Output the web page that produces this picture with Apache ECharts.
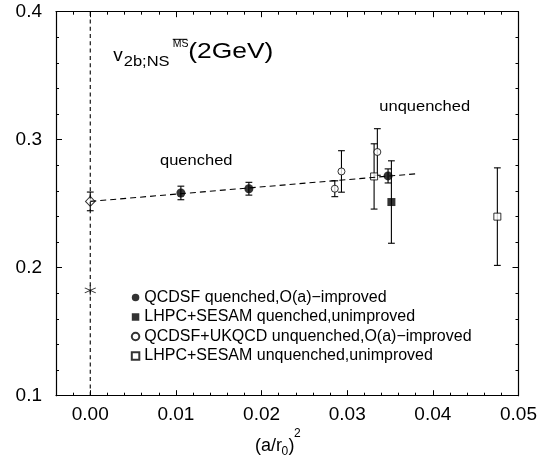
<!DOCTYPE html>
<html>
<head>
<meta charset="utf-8">
<script src="https://cdn.jsdelivr.net/npm/echarts@6/dist/echarts.min.js"></script>
<style>
html,body{margin:0;padding:0;background:#fff;}
#chart{width:540px;height:455px;}
</style>
</head>
<body>
<div id="chart"></div>
<script>
// ---- data ----
const seriesNames = [
  'QCDSF quenched,O(a)\u2212improved',
  'LHPC+SESAM quenched,unimproved',
  'QCDSF+UKQCD unquenched,O(a)\u2212improved',
  'LHPC+SESAM unquenched,unimproved'
];
// QCDSF quenched, O(a)-improved (filled circles)
const qImpX = [0.01058, 0.01852, 0.03477];
const qImpY = [0.2584, 0.2617, 0.2717];
const qImpErr = [0.0053, 0.0050, 0.0055];
// LHPC+SESAM quenched, unimproved (filled square)
const qUnX = [0.03516];
const qUnY = [0.2513];
const qUnErr = [0.0322];
// QCDSF+UKQCD unquenched, O(a)-improved (open circles)
const uImpX = [0.02855, 0.02933, 0.03352];
const uImpY = [0.2617, 0.2752, 0.2904];
const uImpErr = [0.0062, 0.0162, 0.0182];
// LHPC+SESAM unquenched, unimproved (open squares)
const uUnX = [0.03314, 0.04753];
const uUnY = [0.2713, 0.2399];
const uUnErr = [0.0255, 0.0381];
// continuum extrapolation (diamond) and star
const extrapX = [0];
const extrapY = [0.2518];
const extrapErr = [0.0073];
const starX = [0];
const starY = [0.1823];
// dashed fit line end points
const fitX = [0, 0.0381];
const fitY = [0.2518, 0.2734];
// axes
const xMin = -0.004, xMax = 0.05;
const yMin = 0.1, yMax = 0.4;
const xMajorTicks = [0, 0.01, 0.02, 0.03, 0.04, 0.05];
const yMajorTicks = [0.1, 0.2, 0.3, 0.4];

// ---- build ----
const zip = (xs, ys) => xs.map((x, i) => [x, ys[i]]);
const errData = [];
[[qImpX, qImpY, qImpErr], [qUnX, qUnY, qUnErr], [uImpX, uImpY, uImpErr], [uUnX, uUnY, uUnErr], [extrapX, extrapY, extrapErr]]
  .forEach(([xs, ys, es]) => xs.forEach((x, i) => errData.push([x, ys[i], ys[i] - es[i], ys[i] + es[i]])));

const FONT = 'Liberation Sans, Arial, Helvetica, sans-serif';
const INK = '#000';
const axisLineStyle = {color: '#000', width: 1.2};

function xAx(pos, major) {
  const a = {
    type: 'value', min: xMin, max: xMax, position: pos,
    axisLine: {show: !major, onZero: false, lineStyle: axisLineStyle},
    splitLine: {show: false},
    axisTick: {show: true, inside: true, length: major ? 5.5 : 3, lineStyle: {color: '#000', width: 1}},
    axisLabel: {show: false}
  };
  if (major) {
    a.axisTick.customValues = xMajorTicks;
    if (pos === 'bottom') {
      a.axisLabel = {show: true, customValues: xMajorTicks, formatter: v => Number(v).toFixed(2),
        fontSize: 19, fontFamily: FONT, color: INK, margin: 10};
    }
  } else {
    a.interval = 0.002;
  }
  return a;
}
function yAx(pos, major) {
  const a = {
    type: 'value', min: yMin, max: yMax, position: pos,
    axisLine: {show: !major, onZero: false, lineStyle: axisLineStyle},
    splitLine: {show: false},
    axisTick: {show: true, inside: true, length: major ? 6 : 3, lineStyle: {color: '#000', width: 1}},
    axisLabel: {show: false}
  };
  if (major) {
    a.axisTick.customValues = yMajorTicks;
    a.interval = 0.1;
    if (pos === 'left') {
      a.axisLabel = {show: true, customValues: yMajorTicks, formatter: v => Number(v).toFixed(1),
        fontSize: 19, fontFamily: FONT, color: INK, margin: 14};
    }
  } else {
    a.interval = 0.02;
  }
  return a;
}

function txt(x, y, text, size, scaleX) {
  return {type: 'text', x: x, y: y, scaleX: scaleX || 1, silent: true,
    style: {text: text, x: 0, y: 0, fontSize: size, fontFamily: FONT, fill: INK,
      textAlign: 'left', textVerticalAlign: 'middle', verticalAlign: 'middle'}};
}

const chart = echarts.init(document.getElementById('chart'), null, {renderer: 'canvas'});
chart.setOption({
  backgroundColor: '#fff',
  animation: false,
  grid: {left: 56, right: 21.5, top: 11.7, bottom: 59.3, containLabel: false},
  xAxis: [xAx('bottom', false), xAx('bottom', true), xAx('top', false), xAx('top', true)],
  yAxis: [yAx('left', false), yAx('left', true), yAx('right', false), yAx('right', true)],
  legend: {
    data: seriesNames, orient: 'vertical', left: 125.8, top: 284.5,
    itemWidth: 7.5, itemHeight: 7.5, itemGap: 3.5, selectedMode: false,
    textStyle: {fontSize: 16, fontFamily: FONT, color: INK, lineHeight: 16}
  },
  series: [
    {type: 'line', data: [[0, yMin], [0, yMax]], symbol: 'none', silent: true,
      lineStyle: {color: '#000', width: 1.1, type: [4, 3.3]}},
    {type: 'line', data: zip(fitX, fitY), symbol: 'none', silent: true,
      lineStyle: {color: '#000', width: 1.1, type: [6, 4]}},
    {type: 'custom', data: errData, silent: true,
      encode: {x: 0, y: [2, 3]},
      renderItem: function (params, api) {
        const x = api.value(0);
        const lo = api.coord([x, api.value(2)]);
        const hi = api.coord([x, api.value(3)]);
        const w = 3.4;
        const st = {stroke: '#000', lineWidth: 1.1};
        return {type: 'group', children: [
          {type: 'line', shape: {x1: lo[0], y1: lo[1], x2: hi[0], y2: hi[1]}, style: st},
          {type: 'line', shape: {x1: lo[0] - w, y1: lo[1], x2: lo[0] + w, y2: lo[1]}, style: st},
          {type: 'line', shape: {x1: hi[0] - w, y1: hi[1], x2: hi[0] + w, y2: hi[1]}, style: st}
        ]};
      }},
    {name: seriesNames[0], type: 'scatter', data: zip(qImpX, qImpY), symbol: 'circle', symbolSize: 9,
      itemStyle: {color: '#000', borderColor: '#000', borderWidth: 0}},
    {name: seriesNames[1], type: 'scatter', data: zip(qUnX, qUnY), symbol: 'rect', symbolSize: 8,
      itemStyle: {color: '#000', borderColor: '#000', borderWidth: 0}},
    {name: seriesNames[2], type: 'scatter', data: zip(uImpX, uImpY), symbol: 'circle', symbolSize: 7,
      itemStyle: {color: '#fff', borderColor: '#000', borderWidth: 1}},
    {name: seriesNames[3], type: 'scatter', data: zip(uUnX, uUnY), symbol: 'rect', symbolSize: 7,
      itemStyle: {color: '#fff', borderColor: '#000', borderWidth: 1}},
    {type: 'scatter', data: zip(extrapX, extrapY), symbol: 'diamond', symbolSize: [9.5, 10],
      itemStyle: {color: '#fff', borderColor: '#000', borderWidth: 1}},
    {type: 'scatter', data: zip(starX, starY),
      symbol: 'path://M5,0L5,10M0.7,2.5L9.3,7.5M0.7,7.5L9.3,2.5', symbolSize: [11, 10],
      itemStyle: {color: 'none', borderColor: '#000', borderWidth: 1}}
  ],
  graphic: [
    txt(113.3, 55.4, 'v', 19),
    txt(123.7, 62, '2b;NS', 15, 1.1),
    txt(172.7, 44.6, 'MS', 10.5),
    {type: 'line', silent: true, shape: {x1: 172.7, y1: 39.3, x2: 187.3, y2: 39.3}, style: {stroke: INK, lineWidth: 1}},
    txt(188.3, 51.6, '(2GeV)', 22, 1.2),
    txt(160, 160.9, 'quenched', 15, 1.1),
    txt(379.3, 106.6, 'unquenched', 15, 1.1),
    txt(255, 446.5, '(a/r', 18),
    txt(281.5, 451.5, '0', 12),
    txt(288.5, 446.5, ')', 18),
    txt(294, 433.5, '2', 12)
  ]
});
</script>
</body>
</html>
